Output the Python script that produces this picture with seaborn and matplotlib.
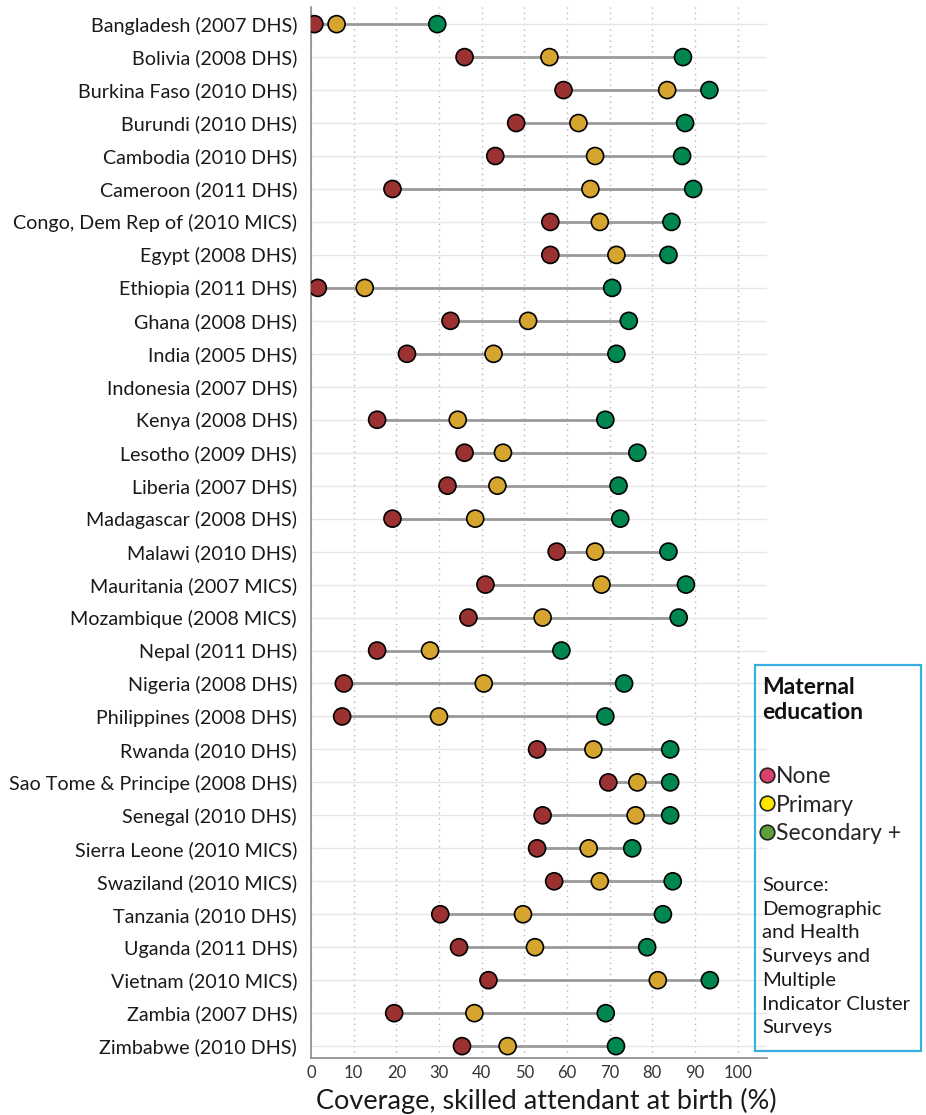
import numpy as np
import pandas as pd
import matplotlib.pyplot as plt
import seaborn as sns
from matplotlib.lines import Line2D
from matplotlib.patches import Rectangle

# skilled attendant at birth (%) by maternal education
countries = [
    'Bangladesh (2007 DHS)', 'Bolivia (2008 DHS)', 'Burkina Faso (2010 DHS)',
    'Burundi (2010 DHS)', 'Cambodia (2010 DHS)', 'Cameroon (2011 DHS)',
    'Congo, Dem Rep of (2010 MICS)', 'Egypt (2008 DHS)', 'Ethiopia (2011 DHS)',
    'Ghana (2008 DHS)', 'India (2005 DHS)', 'Indonesia (2007 DHS)',
    'Kenya (2008 DHS)', 'Lesotho (2009 DHS)', 'Liberia (2007 DHS)',
    'Madagascar (2008 DHS)', 'Malawi (2010 DHS)', 'Mauritania (2007 MICS)',
    'Mozambique (2008 MICS)', 'Nepal (2011 DHS)', 'Nigeria (2008 DHS)',
    'Philippines (2008 DHS)', 'Rwanda (2010 DHS)', 'Sao Tome & Principe (2008 DHS)',
    'Senegal (2010 DHS)', 'Sierra Leone (2010 MICS)', 'Swaziland (2010 MICS)',
    'Tanzania (2010 DHS)', 'Uganda (2011 DHS)', 'Vietnam (2010 MICS)',
    'Zambia (2007 DHS)', 'Zimbabwe (2010 DHS)',
]
none_edu = [0.8, 36.0, 59.2, 48.1, 43.2, 19.1, 56.1, 56.1, 1.6, 32.7, 22.5, np.nan,
            15.5, 36.0, 32.0, 19.1, 57.6, 40.9, 36.9, 15.5, 7.7, 7.3, 53.0, 69.7,
            54.3, 53.0, 57.0, 30.3, 34.7, 41.6, 19.5, 35.4]
primary_edu = [6.0, 55.9, 83.5, 62.7, 66.6, 65.5, 67.7, 71.6, 12.6, 50.9, 42.8, np.nan,
               34.4, 45.0, 43.7, 38.5, 66.6, 68.1, 54.3, 27.9, 40.5, 30.0, 66.2, 76.5,
               76.1, 65.1, 67.7, 49.7, 52.5, 81.3, 38.3, 46.1]
secondary_edu = [29.6, 87.2, 93.4, 87.7, 87.0, 89.6, 84.5, 83.8, 70.6, 74.5, 71.6, np.nan,
                 69.0, 76.5, 72.1, 72.5, 83.8, 87.9, 86.2, 58.7, 73.4, 69.0, 84.2, 84.2,
                 84.2, 75.3, 84.8, 82.5, 78.8, 93.5, 69.1, 71.5]

levels = ['None', 'Primary', 'Secondary +']
dot_colors = ['#9b3131', '#d6a530', '#00864f']
legend_colors = ['#d9406b', '#ffe600', '#5c9e3c']
source_text = ('Source:\nDemographic\nand Health\nSurveys and\nMultiple\n'
               'Indicator Cluster\nSurveys')

sns.set_theme(style='white')
plt.rcParams['font.family'] = ['Lato', 'DejaVu Sans']

df = pd.DataFrame({'country': countries, 'None': none_edu,
                   'Primary': primary_edu, 'Secondary +': secondary_edu})
df['row'] = np.arange(len(df))
long_df = df.melt(id_vars=['country', 'row'], value_vars=levels,
                  var_name='level', value_name='coverage').dropna()

W, H = 926, 1115
fig = plt.figure(figsize=(W / 100, H / 100), dpi=100)
ax = fig.add_axes([311 / W, 1 - 1058 / H, (767 - 311) / W, (1058 - 7) / H])

# range line from lowest to highest group
ax.hlines(df['row'], df[levels].min(axis=1), df[levels].max(axis=1),
          color='#9a9a9a', lw=2, zorder=2)
sns.scatterplot(data=long_df, x='coverage', y='row', hue='level',
                palette=dict(zip(levels, dot_colors)), s=150,
                edgecolor='black', linewidth=1.2, legend=False, zorder=3, ax=ax)

ax.set_xlim(0, 106.9)
ax.set_ylim(31.36, -0.52)
ax.set_xticks(range(0, 101, 10))
ax.set_yticks(df['row'])
ax.set_yticklabels(countries)
ax.xaxis.grid(True, ls=(0, (1, 3)), color='#b5b5b5', lw=1)
ax.yaxis.grid(True, color='#e6e6e6', lw=1)
ax.set_axisbelow(True)
ax.tick_params(axis='y', length=0, pad=10, labelsize=14.2, labelcolor='#1a1a1a')
ax.tick_params(axis='x', length=0, pad=5, labelsize=12, labelcolor='#333333')
ax.set_xlabel('Coverage, skilled attendant at birth (%)', fontsize=19.5,
              color='#1a1a1a')
ax.xaxis.set_label_coords(0.515, -0.028)
ax.set_ylabel('')
for side in ['top', 'right']:
    ax.spines[side].set_visible(False)
for side in ['left', 'bottom']:
    ax.spines[side].set_color('#8a8a8a')
    ax.spines[side].set_linewidth(1.2)

# legend box
fig.patches.append(Rectangle((755 / W, 1 - 1051 / H), (921 - 755) / W, (1051 - 665) / H,
                             transform=fig.transFigure, fill=False,
                             edgecolor='#3aaee0', lw=1.6))
fig.text(762 / W, 1 - 677 / H, 'Maternal\neducation', fontsize=16.5,
         fontweight='bold', va='top', ha='left', linespacing=1.25, color='#111111')
handles = [Line2D([], [], ls='', marker='o', markersize=10.5, markerfacecolor=c,
                  markeredgecolor='#222222', markeredgewidth=1.2) for c in legend_colors]
fig.legend(handles, levels, loc='upper left', bbox_to_anchor=(755 / W, 1 - 760 / H),
           frameon=False, fontsize=16.5, handlelength=0.55,
           handletextpad=0.12, labelspacing=0.34, borderaxespad=0, borderpad=0.25)
fig.text(762 / W, 1 - 877 / H, source_text, fontsize=14.6, va='top', ha='left',
         linespacing=1.48, color='#1a1a1a')

fig.savefig('out.png', dpi=100)
